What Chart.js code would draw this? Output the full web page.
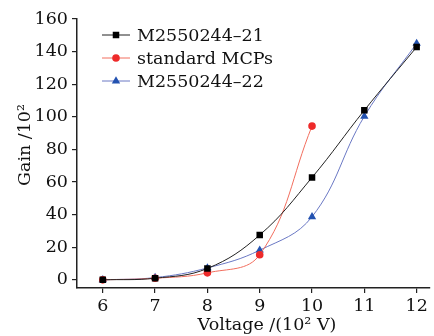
<!DOCTYPE html>
<html>
<head>
<meta charset="utf-8">
<script src="https://cdn.jsdelivr.net/npm/chart.js@4.4.1/dist/chart.umd.min.js"></script>
<style>
  html, body { margin: 0; padding: 0; background: #fff; }
</style>
</head>
<body>
<canvas id="gainChart" width="434" height="336"></canvas>
<script>
// data
let voltages = [6, 7, 8, 9, 10, 11, 12];
let gain21 = [0, 1, 7, 27.5, 62.8, 104, 142.8];
let gainStd = [0, 1, 4.3, 15.4, 94.3];
let gain22 = [0, 1.4, 7.3, 18.2, 38.7, 100.3, 145];
let xTicks = [6, 7, 8, 9, 10, 11, 12];
let yTicks = [0, 20, 40, 60, 80, 100, 120, 140, 160];

let serif = '"DejaVu Serif", "Liberation Serif", serif';
let inkColor = '#111111';

function toPoints(xs, ys) {
    return ys.map(function (y, i) { return { x: xs[i], y: y }; });
}

/* legend and axis titles drawn by hand */
let decorPlugin = {
    id: 'decor',
    afterDraw: function (chart) {
        let ctx = chart.ctx;
        ctx.save();
        ctx.fillStyle = inkColor;
        ctx.font = '17.5px ' + serif;
        ctx.textBaseline = 'middle';

        // legend
        let rowY = [35, 58, 81];
        chart.data.datasets.forEach(function (ds, i) {
            let y = rowY[i];
            ctx.strokeStyle = ds.borderColor;
            ctx.lineWidth = 1;
            ctx.beginPath();
            ctx.moveTo(102, y);
            ctx.lineTo(130, y);
            ctx.stroke();
            ctx.fillStyle = ds.pointBackgroundColor;
            Chart.helpers.drawPoint(ctx, { pointStyle: ds.pointStyle, radius: ds.pointRadius, rotation: 0 }, 116, y);
            ctx.fillStyle = inkColor;
            ctx.textAlign = 'left';
            ctx.fillText(ds.label, 137, y + 1);
        });

        // x title
        ctx.textAlign = 'center';
        ctx.fillText('Voltage /(10² V)', 267, 325);

        // y title
        ctx.translate(25, 145);
        ctx.rotate(-Math.PI / 2);
        ctx.fillText('Gain /10²', 0, 0);
        ctx.restore();
    }
};

new Chart(document.getElementById('gainChart'), {
    type: 'scatter',
    data: {
        datasets: [{
            label: 'M2550244–21',
            data: toPoints(voltages, gain21),
            showLine: true,
            borderColor: '#222222',
            borderWidth: 1,
            pointStyle: 'rect',
            pointRadius: 4.6,
            pointBackgroundColor: '#000000',
            pointBorderWidth: 0,
            tension: 0.4
        }, {
            label: 'standard MCPs',
            data: toPoints(voltages, gainStd),
            showLine: true,
            borderColor: '#f26e5e',
            borderWidth: 1,
            pointStyle: 'circle',
            pointRadius: 3.8,
            pointBackgroundColor: '#ee2a2a',
            pointBorderWidth: 0,
            tension: 0.4
        }, {
            label: 'M2550244–22',
            data: toPoints(voltages, gain22),
            showLine: true,
            borderColor: '#6a78c4',
            borderWidth: 1,
            pointStyle: 'triangle',
            pointRadius: 4.8,
            pointBackgroundColor: '#2352b0',
            pointBorderWidth: 0,
            tension: 0.4
        }]
    },
    options: {
        responsive: false,
        animation: false,
        layout: { padding: { top: 19, right: 0, left: 0, bottom: 0 } },
        plugins: {
            legend: { display: false },
            tooltip: { enabled: false }
        },
        scales: {
            x: {
                type: 'linear',
                min: 5.507,
                max: 12.24,
                afterBuildTicks: function (scale) {
                    scale.ticks = xTicks.map(function (v) { return { value: v }; });
                },
                afterFit: function (scale) { scale.height = 48; },
                border: { display: true, color: '#222', width: 1.5 },
                grid: { display: true, drawOnChartArea: false, drawTicks: true, tickLength: 5, color: '#222', lineWidth: 1.2 },
                ticks: { color: inkColor, font: { family: serif, size: 17.5 }, padding: 3, maxRotation: 0 }
            },
            y: {
                min: -5,
                max: 160,
                afterBuildTicks: function (scale) {
                    scale.ticks = yTicks.map(function (v) { return { value: v }; });
                },
                afterFit: function (scale) { scale.width = 77; },
                border: { display: true, color: '#222', width: 1.5 },
                grid: { display: true, drawOnChartArea: false, drawTicks: true, tickLength: 5, color: '#222', lineWidth: 1.2 },
                ticks: { color: inkColor, font: { family: serif, size: 17.5 }, padding: 4 }
            }
        }
    },
    plugins: [decorPlugin]
});
</script>
</body>
</html>
